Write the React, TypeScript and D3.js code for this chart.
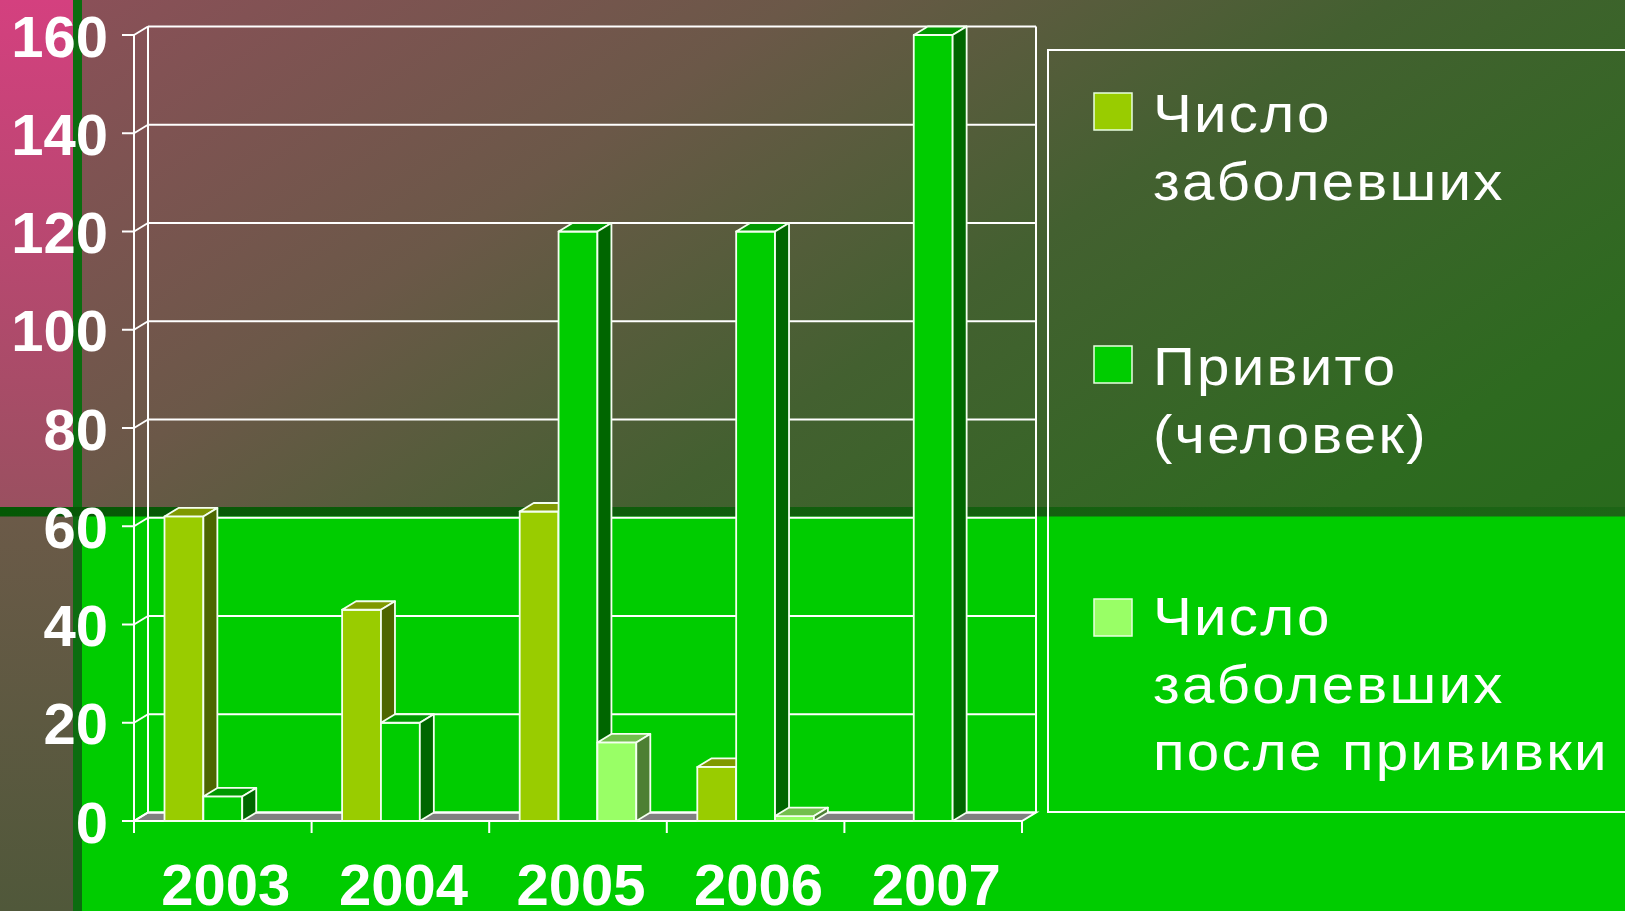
import * as d3 from "d3";

const years = ["2003", "2004", "2005", "2006", "2007"];
const seriesNames = ["Число заболевших", "Привито (человек)", "Число заболевших после прививки"];
const sick = [62, 43, 63, 11, 0];
const vaccinated = [5, 20, 120, 120, 160];
const sickAfter = [0, 0, 16, 1, 0];
const yTicks = [0, 20, 40, 60, 80, 100, 120, 140, 160];
const legendLines = [
  ["Число", "заболевших"],
  ["Привито", "(человек)"],
  ["Число", "заболевших", "после прививки"],
];

const W = 1625;
const H = 911;
const font = "'Liberation Sans', Arial, sans-serif";

// front, top, side shades for each series
const faces = [
  { front: "#99cc00", top: "#7f9900", side: "#4d6600" },
  { front: "#00cc00", top: "#009900", side: "#006600" },
  { front: "#99ff66", top: "#72bf4c", side: "#4d8033" },
];

export default function App() {
  const values = [sick, vaccinated, sickAfter];

  const x = d3.scaleBand().domain(years).range([134, 1022]);
  const xs = d3.scaleBand<number>().domain([0, 1, 2]).range([30.5, x.bandwidth() - 30.5]);
  const y = d3.scaleLinear().domain([0, 160]).range([821, 35]);
  const dx = 14;
  const dy = -8.5;
  const [x0, x1] = x.range();
  const y0 = y(0);

  const pts = (p: number[][]) => p.map((d) => d.join(",")).join(" ");

  const bars: JSX.Element[] = [];
  years.forEach((yr, i) => {
    values.forEach((arr, j) => {
      const v = arr[i];
      if (!v) return;
      const xl = (x(yr) as number) + (xs(j) as number);
      const w = xs.bandwidth();
      const yt = y(v);
      const f = faces[j];
      bars.push(
        <g key={yr + j} stroke="#f4fff0" strokeWidth={1.8} strokeLinejoin="round">
          <rect x={xl} y={yt} width={w} height={y0 - yt} fill={f.front} />
          <polygon points={pts([[xl, yt], [xl + w, yt], [xl + w + dx, yt + dy], [xl + dx, yt + dy]])} fill={f.top} />
          <polygon points={pts([[xl + w, yt], [xl + w + dx, yt + dy], [xl + w + dx, y0 + dy], [xl + w, y0]])} fill={f.side} />
        </g>
      );
    });
  });

  const legendSwatchY = [93, 346, 599];
  const legendBaseY = [132, 385, 635];
  const legendX = 1153;

  return (
    <svg width={W} height={H} style={{ position: "fixed", left: 0, top: 0 }}>
      <defs>
        <linearGradient id="bg" gradientUnits="userSpaceOnUse" x1={0} y1={0} x2={938} y2={1379}>
          <stop offset={0} stop-color="#8f4e5a" />
          <stop offset={0.03} stop-color="#8a5058" />
          <stop offset={0.27} stop-color="#6b5848" />
          <stop offset={0.47} stop-color="#436030" />
          <stop offset={0.7} stop-color="#2e6a20" />
          <stop offset={1} stop-color="#1f6a16" />
        </linearGradient>
        <linearGradient id="pink" x1={0} y1={0} x2={0} y2={1}>
          <stop offset={0} stop-color="#d4407f" />
          <stop offset={1} stop-color="#9a5060" />
        </linearGradient>
        <linearGradient id="olive" x1={0} y1={0} x2={0} y2={1}>
          <stop offset={0} stop-color="#6b5a48" />
          <stop offset={1} stop-color="#50583a" />
        </linearGradient>
        <linearGradient id="band" x1={0} y1={0} x2={1} y2={0}>
          <stop offset={0} stop-color="#055805" />
          <stop offset={1} stop-color="#1d6516" />
        </linearGradient>
      </defs>

      {/* slide background */}
      <rect x={0} y={0} width={W} height={H} fill="url(#bg)" />
      <rect x={0} y={0} width={73} height={507} fill="url(#pink)" />
      <rect x={0} y={517} width={73} height={H - 517} fill="url(#olive)" />
      <rect x={82} y={516} width={W - 82} height={H - 516} fill="#00cc00" />
      <rect x={73} y={0} width={9} height={H} fill="#0c6c10" />
      <rect x={0} y={507} width={W} height={9.5} fill="url(#band)" />

      {/* floor */}
      <polygon
        points={pts([[x0, y0], [x1, y0], [x1 + dx, y0 + dy], [x0 + dx, y0 + dy]])}
        fill="#808080"
        stroke="#ffffff"
        strokeWidth={2}
      />

      {/* walls and gridlines */}
      <g stroke="#ffffff" strokeWidth={2} fill="none">
        {yTicks.map((t) => (
          <g key={t}>
            <line x1={x0 + dx} x2={x1 + dx} y1={y(t) + dy} y2={y(t) + dy} />
            <line x1={x0} x2={x0 + dx} y1={y(t)} y2={y(t) + dy} />
            <line x1={x0 - 12} x2={x0} y1={y(t)} y2={y(t)} />
          </g>
        ))}
        <line x1={x0} x2={x0} y1={y0 + 12} y2={y(160)} />
        <line x1={x0 + dx} x2={x0 + dx} y1={y0 + dy} y2={y(160) + dy} />
        <line x1={x1 + dx} x2={x1 + dx} y1={y0 + dy} y2={y(160) + dy} />
        {years.map((yr) => (
          <line key={yr} x1={(x(yr) as number) + x.bandwidth()} x2={(x(yr) as number) + x.bandwidth()} y1={y0} y2={y0 + 12} />
        ))}
      </g>

      {bars}

      {/* axis labels */}
      <g fill="#ffffff" fontFamily={font} fontWeight="bold" fontSize={58}>
        {yTicks.map((t) => (
          <text key={t} x={108} y={y(t) + 21.5} textAnchor="end">
            {t}
          </text>
        ))}
        {years.map((yr) => (
          <text key={yr} x={(x(yr) as number) + x.bandwidth() / 2 + 3} y={905} textAnchor="middle">
            {yr}
          </text>
        ))}
      </g>

      {/* legend */}
      <rect x={1048} y={50} width={620} height={762} fill="none" stroke="#ffffff" strokeWidth={2} />
      {seriesNames.map((name, j) => (
        <g key={name}>
          <rect x={1094} y={legendSwatchY[j]} width={38} height={37} fill={faces[j].front} stroke="#e8ffe0" strokeWidth={1.5} />
          {legendLines[j].map((ln, k) => (
            <text
              key={k}
              transform={`translate(${legendX},${legendBaseY[j] + k * 67.5}) scale(1.1,1)`}
              fill="#ffffff"
              fontFamily={font}
              fontSize={53}
              letterSpacing={2}
            >
              {ln}
            </text>
          ))}
        </g>
      ))}
    </svg>
  );
}
